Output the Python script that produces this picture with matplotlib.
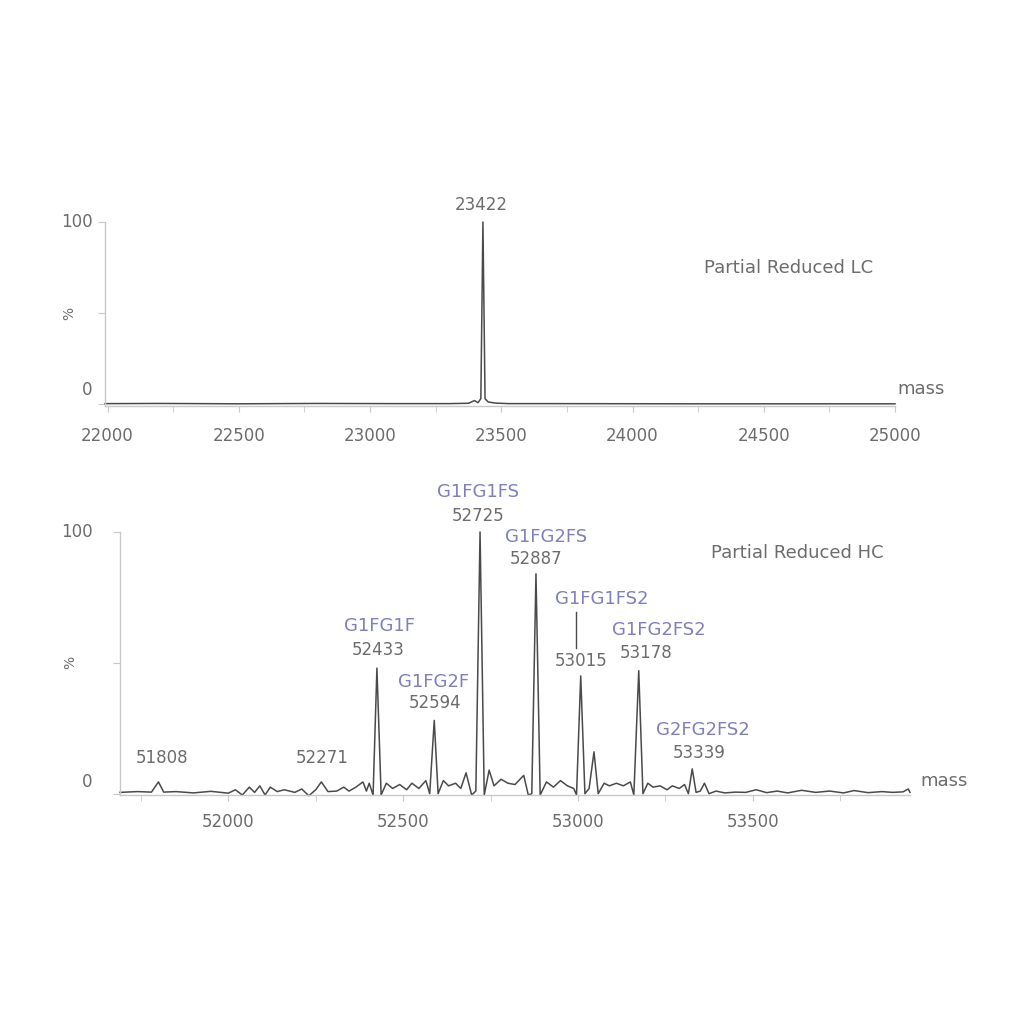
import numpy as np
import matplotlib
matplotlib.use('Agg')
import matplotlib.pyplot as plt

# ---- data ------------------------------------------------------------
lc_mass = [21990, 22200, 22500, 22800, 23100, 23300, 23375, 23398, 23411, 23422,
           23430, 23438, 23450, 23478, 23528, 23700, 24200, 25000]
lc_int = [0.3, 0.4, 0.2, 0.4, 0.3, 0.3, 0.5, 2.0, 0.8, 3.0,
          100, 3.0, 1.2, 0.6, 0.3, 0.3, 0.2, 0.2]
lc_peak = (23430, '23422')

hc_mass = [51690, 51740, 51780, 51800, 51815, 51850, 51900, 51950, 52000, 52020,
           52040, 52060, 52075, 52090, 52105, 52120, 52140, 52160, 52190, 52210,
           52230, 52250, 52266, 52285, 52310, 52330, 52345, 52365, 52385, 52395,
           52403, 52414, 52425, 52437, 52452, 52470, 52490, 52510, 52525, 52545,
           52565, 52576, 52589, 52600, 52615, 52630, 52650, 52665, 52680, 52696,
           52708, 52720, 52732, 52746, 52760, 52780, 52800, 52820, 52845, 52858,
           52868, 52880, 52892, 52910, 52930, 52950, 52970, 52988, 52996, 53008,
           53020, 53032, 53046, 53058, 53075, 53090, 53110, 53130, 53150, 53160,
           53174, 53186, 53200, 53215, 53235, 53255, 53270, 53290, 53305, 53316,
           53327, 53338, 53350, 53362, 53375, 53395, 53420, 53450, 53480, 53510,
           53540, 53570, 53600, 53640, 53680, 53720, 53760, 53790, 53830, 53870,
           53900, 53930, 53945, 53950]
hc_int = [0.5, 0.8, 0.6, 4.5, 0.6, 0.8, 0.3, 0.9, 0.2, 1.5,
          -0.5, 2.5, 0.5, 3.0, -0.5, 2.5, 0.8, 1.5, 0.5, 1.8,
          -0.8, 1.5, 4.5, 0.8, 1.0, 2.5, 1.0, 2.5, 4.5, 1.0,
          4.0, -0.5, 48, -0.5, 4.0, 2.0, 3.5, 1.5, 4.0, 2.0,
          5.0, 0.0, 28, 0.0, 5.0, 3.0, 4.0, 2.0, 8.0, -0.5,
          1.0, 100, -0.5, 9.0, 3.0, 5.5, 4.0, 3.5, 7.0, -0.5,
          0.0, 84, -0.5, 4.5, 2.5, 5.0, 3.0, 2.0, -0.5, 45,
          0.0, 2.0, 16, 0.0, 4.0, 3.0, 4.0, 3.0, 4.5, -0.5,
          47, 0.0, 4.0, 2.5, 3.0, 1.5, 3.0, 2.0, 3.5, 0.0,
          9.5, 0.5, 1.0, 4.0, 0.0, 1.0, 0.3, 0.6, 0.5, 1.5,
          0.4, 1.0, 0.3, 1.3, 0.5, 1.0, 0.3, 1.2, 0.4, 0.8,
          0.5, 0.7, 1.8, 0.5]

# peak annotations: (x, y, text, is_glycan)
hc_labels = [
    (51809, 13.7, '51808', False),
    (52269, 13.7, '52271', False),
    (52431, 64.1, 'G1FG1F', True),
    (52429, 55.0, '52433', False),
    (52586, 42.7, 'G1FG2F', True),
    (52591, 34.7, '52594', False),
    (52714, 115.3, 'G1FG1FS', True),
    (52714, 106.1, '52725', False),
    (52909, 98.1, 'G1FG2FS', True),
    (52880, 89.7, '52887', False),
    (53069, 74.4, 'G1FG1FS2', True),
    (53009, 50.8, '53015', False),
    (53231, 62.6, 'G1FG2FS2', True),
    (53194, 53.8, '53178', False),
    (53357, 24.4, 'G2FG2FS2', True),
    (53346, 15.6, '53339', False),
]

TXT = '#6c6c6c'
GLY = '#7f7fbf'
AX = '#c8c8c8'
LINE = '#4a4a4a'
FS = 12
FS_WORD = 13

plt.rcParams['font.family'] = ['DejaVu Sans']
fig = plt.figure(figsize=(10.24, 10.24), dpi=100)

ax1 = fig.add_axes([105 / 1024, 1 - 406 / 1024, 790 / 1024, 184 / 1024])
ax2 = fig.add_axes([120 / 1024, 1 - 795 / 1024, 790 / 1024, 263 / 1024])


def style(ax, xlim, ylim, major, minor, pad):
    ax.set_xlim(*xlim)
    ax.set_ylim(*ylim)
    for s in ('top', 'right'):
        ax.spines[s].set_visible(False)
    for s in ('left', 'bottom'):
        ax.spines[s].set_color(AX)
        ax.spines[s].set_linewidth(1.0)
    ax.set_xticks(major)
    ax.set_xticks(minor, minor=True)
    ax.set_yticks([0, 50, 100])
    ax.set_yticklabels([])
    ax.tick_params(axis='x', which='both', colors=AX, labelcolor=TXT,
                   labelsize=FS, length=4, pad=pad)
    ax.tick_params(axis='y', colors=AX, length=5)
    ax.patch.set_alpha(0)


# ---- top: light chain ------------------------------------------------
style(ax1, (21990, 25000), (-1, 100), np.arange(22000, 25001, 500),
      np.arange(22250, 25000, 500), 11)
ax1.plot(lc_mass, lc_int, color=LINE, lw=1.1, clip_on=False)
ax1.text(lc_peak[0] - 5, 109.2, lc_peak[1], color=TXT, fontsize=FS, ha='center', va='center')
ax1.text(24272, 75, 'Partial Reduced LC', color=TXT, fontsize=FS_WORD, ha='left', va='center')
ax1.text(25008, 8.2, 'mass', color=TXT, fontsize=FS_WORD, ha='left', va='center', clip_on=False)
ax1.text(-0.015, 100, '100', color=TXT, fontsize=FS, ha='right', va='center', transform=ax1.get_yaxis_transform())
ax1.text(-0.023, 7.6, '0', color=TXT, fontsize=FS, ha='center', va='center', transform=ax1.get_yaxis_transform())
ax1.text(-0.045, 50, '%', color=TXT, fontsize=FS - 2, ha='center', va='center', rotation=90,
         transform=ax1.get_yaxis_transform())

# ---- bottom: heavy chain ---------------------------------------------
style(ax2, (51690, 53950), (-0.5, 100), np.arange(52000, 53501, 500),
      np.arange(51750, 53950, 250), 9)
ax2.plot(hc_mass, hc_int, color=LINE, lw=1.1, clip_on=False)
for x, y, t, g in hc_labels:
    ax2.text(x, y, t, color=GLY if g else TXT, fontsize=FS_WORD if g else FS,
             ha='center', va='center', clip_on=False)
ax2.plot([52994, 52994], [55.7, 69.5], color=LINE, lw=1.0)
ax2.text(53380, 92, 'Partial Reduced HC', color=TXT, fontsize=FS_WORD, ha='left', va='center')
ax2.text(53980, 5, 'mass', color=TXT, fontsize=FS_WORD, ha='left', va='center', clip_on=False)
ax2.text(-0.035, 100, '100', color=TXT, fontsize=FS, ha='right', va='center', transform=ax2.get_yaxis_transform())
ax2.text(-0.041, 4.6, '0', color=TXT, fontsize=FS, ha='center', va='center', transform=ax2.get_yaxis_transform())
ax2.text(-0.063, 50, '%', color=TXT, fontsize=FS - 2, ha='center', va='center', rotation=90,
         transform=ax2.get_yaxis_transform())

fig.savefig('out.png', dpi=100)
